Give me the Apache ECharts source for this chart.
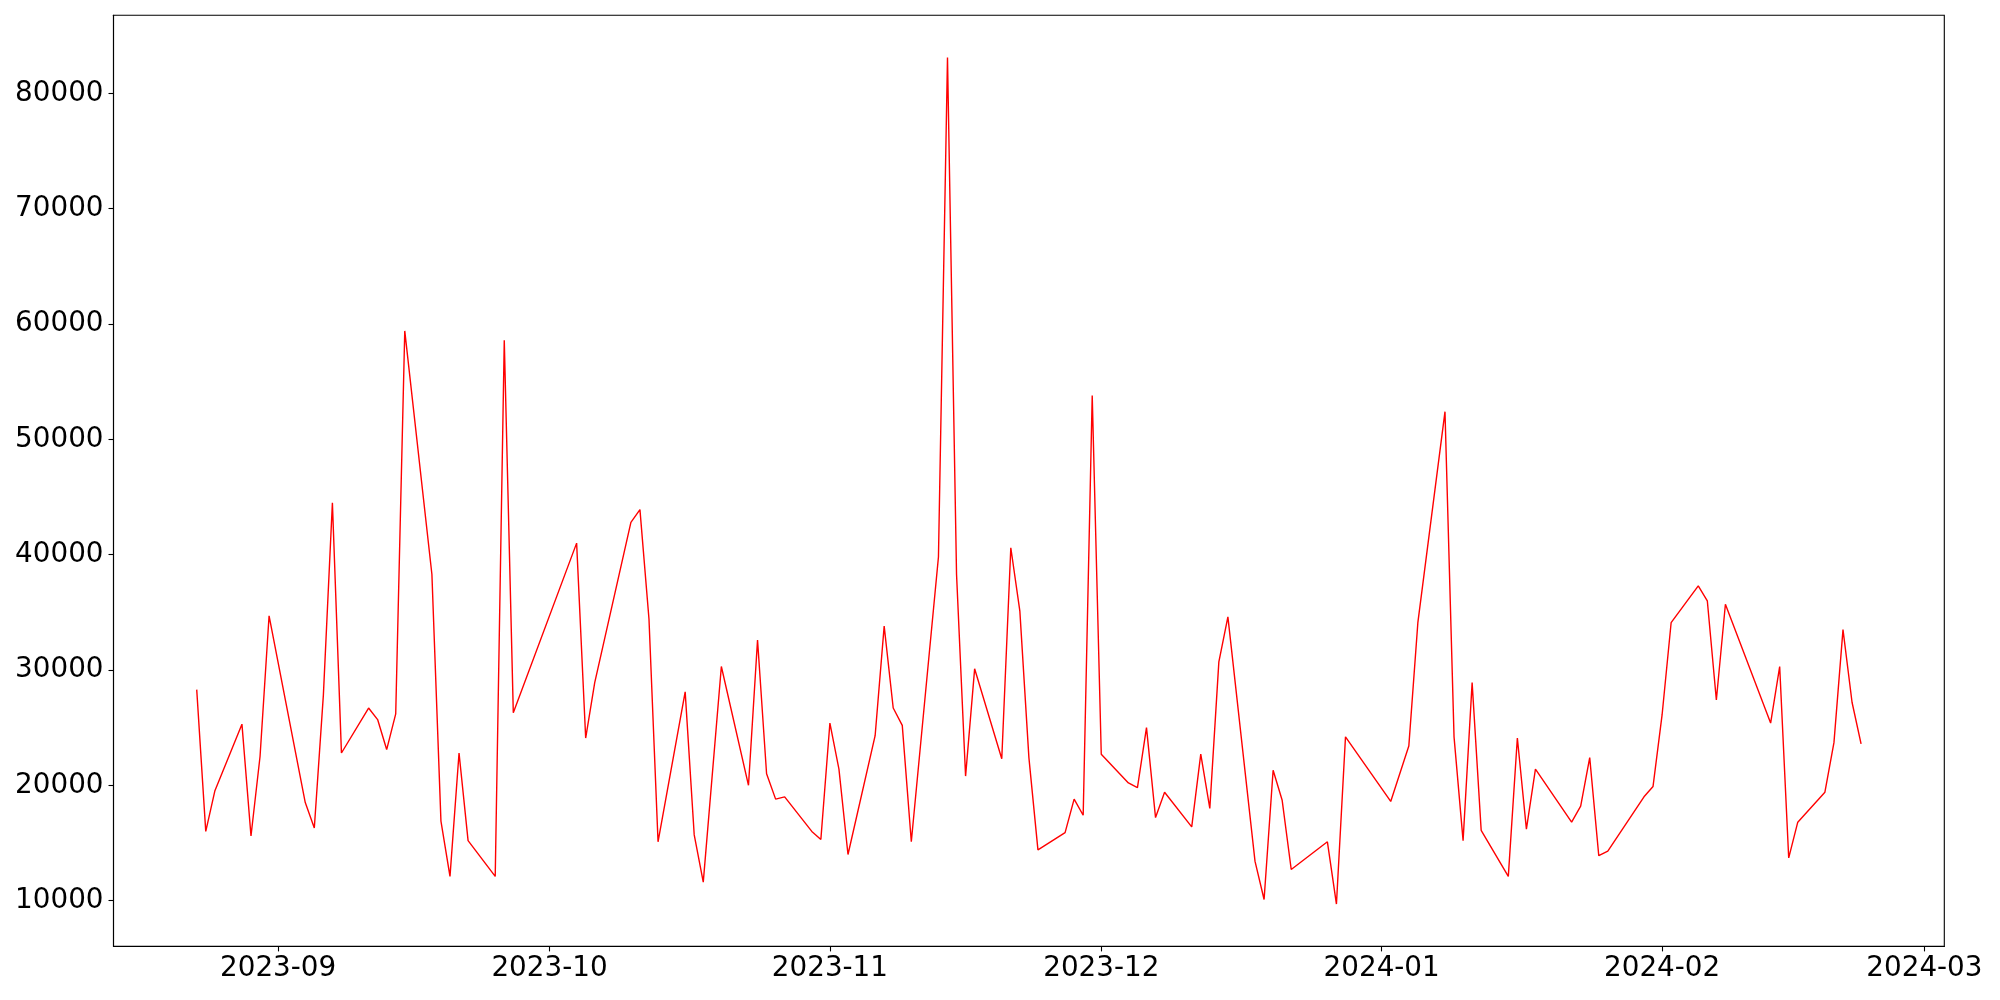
<!DOCTYPE html>
<html>
<head>
<meta charset="utf-8">
<script src="https://cdn.jsdelivr.net/npm/echarts@6/dist/echarts.min.js"></script>
<style>
html,body{margin:0;padding:0;background:#fff;}
#chart{width:2000px;height:1000px;}
</style>
</head>
<body>
<div id="chart"></div>
<script>
const dates = [
"2023-08-23","2023-08-24","2023-08-25","2023-08-28","2023-08-29","2023-08-30","2023-08-31",
"2023-09-04","2023-09-05","2023-09-06","2023-09-07","2023-09-08",
"2023-09-11","2023-09-12","2023-09-13","2023-09-14","2023-09-15",
"2023-09-18","2023-09-19","2023-09-20","2023-09-21","2023-09-22",
"2023-09-25","2023-09-26","2023-09-27",
"2023-10-04","2023-10-05","2023-10-06",
"2023-10-10","2023-10-11","2023-10-12","2023-10-13",
"2023-10-16","2023-10-17","2023-10-18","2023-10-20",
"2023-10-23","2023-10-24","2023-10-25","2023-10-26","2023-10-27",
"2023-10-30","2023-10-31","2023-11-01","2023-11-02","2023-11-03",
"2023-11-06","2023-11-07","2023-11-08","2023-11-09","2023-11-10",
"2023-11-13","2023-11-14","2023-11-15","2023-11-16","2023-11-17",
"2023-11-20","2023-11-21","2023-11-22","2023-11-23","2023-11-24",
"2023-11-27","2023-11-28","2023-11-29","2023-11-30","2023-12-01",
"2023-12-04","2023-12-05","2023-12-06","2023-12-07","2023-12-08",
"2023-12-11","2023-12-12","2023-12-13","2023-12-14","2023-12-15",
"2023-12-18","2023-12-19","2023-12-20","2023-12-21","2023-12-22",
"2023-12-26","2023-12-27","2023-12-28",
"2024-01-02","2024-01-04","2024-01-05",
"2024-01-08","2024-01-09","2024-01-10","2024-01-11","2024-01-12",
"2024-01-15","2024-01-16","2024-01-17","2024-01-18",
"2024-01-22","2024-01-23","2024-01-24","2024-01-25","2024-01-26",
"2024-01-30","2024-01-31","2024-02-01","2024-02-02",
"2024-02-05","2024-02-06","2024-02-07","2024-02-08",
"2024-02-13","2024-02-14","2024-02-15","2024-02-16",
"2024-02-19","2024-02-20","2024-02-21","2024-02-22","2024-02-23"
];
const values = [
28300,16000,19500,25300,15600,22500,34700,
18500,16300,27800,44500,22800,
26700,25700,23100,26200,59400,
38300,16900,12100,22800,15200,
12100,58600,26300,
41000,24100,28900,
42800,43900,34400,15100,
28100,15700,11600,30300,
20000,32600,21000,18800,19000,
16000,15300,25400,21400,14000,
24300,33800,26700,25200,15100,
39800,83100,38300,20800,30100,
22300,40600,35100,22400,14400,
15900,18800,17400,53800,22700,
20200,19800,25000,17200,19400,
16400,22700,18000,30700,34600,
13400,10100,21300,18700,12700,
15100,9700,24200,
18600,23400,34100,
52400,24200,15200,28900,16100,
12100,24100,16200,21400,
16800,18200,22400,13900,14300,
19000,19900,26100,34100,
37300,36000,27400,35700,
25400,30300,13700,16800,
19400,23700,33500,27200,23600
];
const xTickLabels = ["2023-09","2023-10","2023-11","2023-12","2024-01","2024-02","2024-03"];
const yTickValues = [10000,20000,30000,40000,50000,60000,70000,80000];

function toDays(s){
  const p = s.split('-').map(Number);
  return Date.UTC(p[0], p[1]-1, p[2] || 1) / 86400000;
}
const firstD = toDays(dates[0]);
const lastD = toDays(dates[dates.length-1]);
const span = lastD - firstD;
const xMin = firstD - span*0.05;
const xMax = lastD + span*0.05;
const vMin = Math.min(...values), vMax = Math.max(...values);
const yMin = vMin - (vMax-vMin)*0.05;
const yMax = vMax + (vMax-vMin)*0.05;
const xTickDays = xTickLabels.map(toDays);
const labelOf = {};
xTickLabels.forEach((l,i)=>{ labelOf[xTickDays[i]] = l; });

const seriesData = dates.map((d,i)=>[toDays(d), values[i]]);
const font = 'DejaVu Sans';

const chart = echarts.init(document.getElementById('chart'), null, {renderer:'canvas'});
chart.setOption({
  animation:false,
  backgroundColor:'#fff',
  grid:{left:113.5, right:55.7, top:15.3, bottom:53.6, show:true, borderColor:'#000', borderWidth:1.1, backgroundColor:'transparent'},
  xAxis:{
    type:'value', min:xMin, max:xMax, scale:true,
    axisLine:{show:true, onZero:false, lineStyle:{color:'#000', width:1.1}},
    axisTick:{show:true, length:5, lineStyle:{color:'#000', width:1.1}, customValues:xTickDays},
    axisLabel:{show:true, color:'#000', fontFamily:font, fontSize:27.8, margin:8,
      customValues:xTickDays,
      formatter:function(v){ return labelOf[v] !== undefined ? labelOf[v] : ''; }},
    splitLine:{show:false}
  },
  yAxis:{
    type:'value', min:yMin, max:yMax, scale:true,
    axisLine:{show:true, onZero:false, lineStyle:{color:'#000', width:1.1}},
    axisTick:{show:true, length:5, lineStyle:{color:'#000', width:1.1}, customValues:yTickValues},
    axisLabel:{show:true, color:'#000', fontFamily:font, fontSize:27.8, margin:10,
      customValues:yTickValues, formatter:function(v){return String(v);}},
    splitLine:{show:false}
  },
  series:[{
    type:'line', data:seriesData, showSymbol:false, symbol:'none',
    lineStyle:{color:'#ff0000', width:1.4}, itemStyle:{color:'#ff0000'}
  }]
});
</script>
</body>
</html>
